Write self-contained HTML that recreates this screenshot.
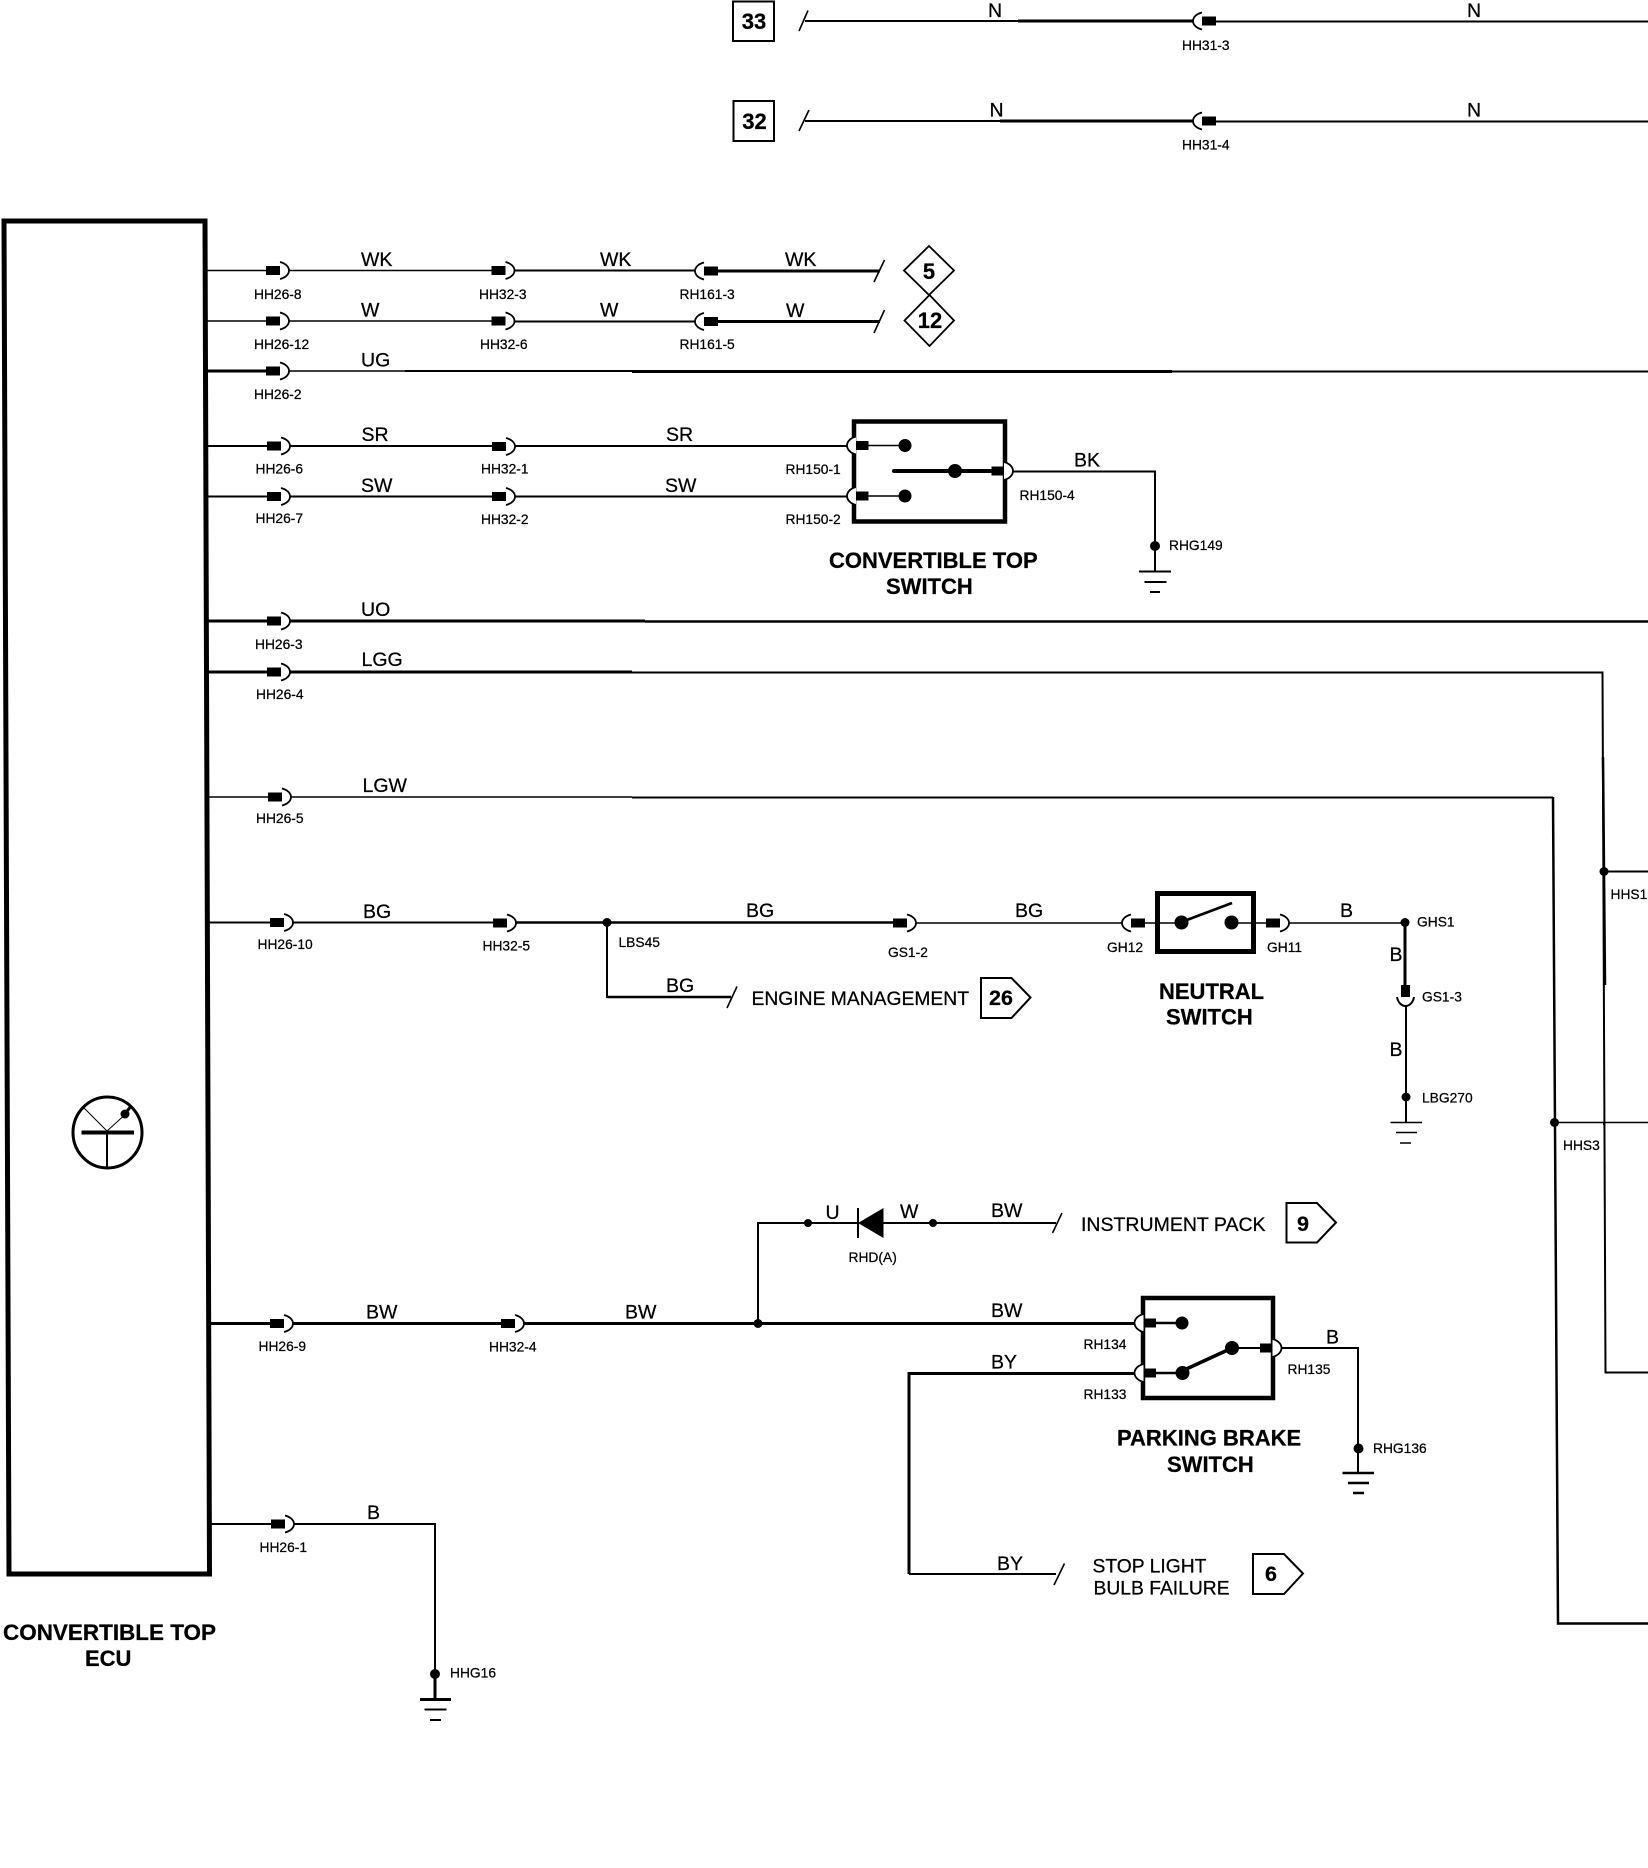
<!DOCTYPE html>
<html lang="en">
<head>
<meta charset="utf-8">
<title>Convertible Top ECU wiring diagram</title>
<style>
html,body{margin:0;padding:0;background:#fff;width:1648px;height:1868px;overflow:hidden}
svg{display:block}
text{font-family:"Liberation Sans",Arial,sans-serif;fill:#000;stroke:#000;stroke-width:.25}
.w{font-size:19.5px}
.c{font-size:13.8px}
.b{font-size:22px;font-weight:bold}
.n{font-size:22px;font-weight:bold;text-anchor:middle}
.l{font-size:19.3px}
.t{fill:none;stroke:#000;stroke-width:1.5}
.m{fill:none;stroke:#000;stroke-width:2}
.h{fill:none;stroke:#000;stroke-width:3}
.x{fill:none;stroke:#000;stroke-width:4.5}
.s{fill:none;stroke:#000;stroke-width:1.6}
</style>
</head>
<body>
<svg xmlns="http://www.w3.org/2000/svg" width="1648" height="1868" viewBox="0 0 1648 1868">
<defs>
<g id="k"><path d="M0 -8.5C6 -7 9 -3.5 9 0C9 3.5 6 7 0 8.5" fill="#fff" stroke="#000" stroke-width="1.800"/><rect x="-14" y="-4.5" width="14" height="9" fill="#000"/></g>
<g id="j"><path d="M0 -9C6 -7.5 9 -3.5 9 0C9 3.5 6 7.5 0 9" fill="#fff" stroke="#000" stroke-width="1.800"/><rect x="-12.500" y="-4.500" width="12.500" height="9" fill="#000"/></g>
</defs>

<!-- ECU -->
<polygon points="4,221 205,221 209.500,1574 9,1574" fill="#fff" stroke="#000" stroke-width="5"/>
<ellipse cx="107.500" cy="1132.500" rx="34.500" ry="35.500" fill="none" stroke="#000" stroke-width="3"/>
<path d="M81.500 1132.500H134" stroke="#000" stroke-width="4" fill="none"/>
<path d="M107 1132V1168" class="m"/>
<path d="M84 1108L107 1131" stroke="#000" stroke-width="1" fill="none"/>
<path d="M107 1131L123.500 1116" stroke="#000" stroke-width="1" fill="none"/>
<path d="M123.500 1116L131 1106" class="h"/>
<circle cx="125" cy="1114" r="4.500"/>

<!-- top wires -->
<rect x="733" y="1.500" width="41" height="39.500" fill="#fff" stroke="#000" stroke-width="2"/>
<rect x="733.500" y="101" width="40.500" height="40" fill="#fff" stroke="#000" stroke-width="2"/>
<text class="n" x="754" y="29">33</text>
<text class="n" x="754.500" y="129">32</text>
<path d="M799 31L808 10.500M799 131L809 110" class="s"/>
<path d="M805 21H1018" class="m"/><path d="M1018 21H1194" class="h"/><path d="M1215 21.500H1648" class="m"/>
<path d="M805 121H1000" class="m"/><path d="M1000 121H1194" class="h"/><path d="M1215 121.500H1648" class="m"/>
<use href="#k" transform="translate(1202 21) scale(-1 1)"/>
<use href="#k" transform="translate(1202 121) scale(-1 1)"/>
<text class="w" x="988" y="17">N</text><text class="w" x="1467" y="17">N</text>
<text class="w" x="989.500" y="116.500">N</text><text class="w" x="1467" y="116.500">N</text>
<text class="c" x="1182" y="50">HH31-3</text><text class="c" x="1182" y="149.500">HH31-4</text>

<!-- WK / W -->
<path d="M206 270.500H500" class="t"/><path d="M505 270.500H700" class="m"/><path d="M712 271H880" class="h"/>
<path d="M206 321H500" class="t"/><path d="M505 321.500H700" class="m"/><path d="M712 321.500H880" class="h"/>
<path d="M874 282L884.500 260M874 333L884.500 310" class="s"/>
<use href="#k" x="280" y="270.500"/><use href="#k" x="505.500" y="270.500"/>
<use href="#k" transform="translate(704 271) scale(-1 1)"/>
<use href="#k" x="280" y="321"/><use href="#k" x="505.500" y="321"/>
<use href="#k" transform="translate(704 321.500) scale(-1 1)"/>
<text class="w" x="361" y="266">WK</text><text class="w" x="600" y="266">WK</text><text class="w" x="785" y="266">WK</text>
<text class="w" x="361" y="316.500">W</text><text class="w" x="600" y="316.500">W</text><text class="w" x="786" y="317">W</text>
<text class="c" x="254" y="299">HH26-8</text><text class="c" x="479" y="299">HH32-3</text><text class="c" x="679.500" y="299">RH161-3</text>
<text class="c" x="254" y="349">HH26-12</text><text class="c" x="480" y="349">HH32-6</text><text class="c" x="679.500" y="349">RH161-5</text>
<polygon points="929,246 954,270.500 929,295 904,270.500" fill="#fff" stroke="#000" stroke-width="1.800"/>
<polygon points="929.500,295 954,320.500 929.500,346 904.500,320.500" fill="#fff" stroke="#000" stroke-width="1.800"/>
<text class="n" x="929" y="279">5</text><text class="n" x="930" y="328">12</text>

<!-- UG -->
<path d="M206 371H270" class="h"/><path d="M285 371H405" class="t"/><path d="M405 371H632" class="m"/><path d="M632 371.500H1172" class="h"/><path d="M1172 371.500H1648" class="m"/>
<use href="#k" x="280" y="371"/>
<text class="w" x="361" y="366.500">UG</text>
<text class="c" x="254" y="399">HH26-2</text>

<!-- SR / SW + convertible top switch -->
<path d="M206 446H850" class="m"/><path d="M206 496.500H850" class="m"/>
<rect x="854" y="421.500" width="151" height="100" fill="#fff" stroke="#000" stroke-width="4.500"/>
<use href="#k" x="281" y="446"/><use href="#k" x="506" y="446.500"/>
<use href="#k" x="281" y="496.500"/><use href="#k" x="506" y="496.500"/>
<use href="#j" transform="translate(856 445.500) scale(-1 1)"/>
<use href="#j" transform="translate(856 496) scale(-1 1)"/>
<use href="#j" x="1004" y="471"/>
<path d="M864 445.500H904M864 496H904" class="t"/>
<circle cx="905" cy="445.500" r="6.500"/><circle cx="905" cy="496" r="6.500"/>
<path d="M894 471H992" stroke="#000" stroke-width="4" stroke-linecap="round" fill="none"/>
<circle cx="955" cy="471" r="7"/>
<path d="M1013 471.500H1155V571" class="m"/>
<circle cx="1155" cy="546" r="5"/>
<path d="M1139 571.500H1171M1144.500 582H1166.500M1150 592H1160" class="m"/>
<text class="w" x="361.500" y="441">SR</text><text class="w" x="666" y="441">SR</text>
<text class="w" x="361" y="492">SW</text><text class="w" x="665" y="492">SW</text>
<text class="w" x="1074" y="466.500">BK</text>
<text class="c" x="255.500" y="473.500">HH26-6</text><text class="c" x="481" y="473.500">HH32-1</text><text class="c" x="785.500" y="474">RH150-1</text>
<text class="c" x="255.500" y="523">HH26-7</text><text class="c" x="481" y="524">HH32-2</text><text class="c" x="785.500" y="524">RH150-2</text>
<text class="c" x="1019.500" y="500">RH150-4</text><text class="c" x="1169" y="550">RHG149</text>
<text class="b" x="829" y="568">CONVERTIBLE TOP</text>
<text class="b" x="886" y="594">SWITCH</text>

<!-- UO -->
<path d="M207 621H645" class="h"/><path d="M645 621.500H1648" class="h" style="stroke-width:2.500"/>
<use href="#k" x="281" y="621"/>
<text class="w" x="361" y="616">UO</text><text class="c" x="255" y="649">HH26-3</text>

<!-- LGG -->
<path d="M207 672H632" class="h"/><path d="M632 672.500H1602.500L1605.500 1372.500H1648" class="m"/>
<path d="M1603 757L1605 985" class="h" style="stroke-width:2.500"/>
<path d="M1604 871.500H1648" class="m"/>
<circle cx="1604" cy="871.500" r="4.500"/>
<use href="#k" x="281" y="672"/>
<text class="w" x="361.500" y="666">LGG</text><text class="c" x="256" y="699">HH26-4</text>
<text class="c" x="1610.500" y="899">HHS1</text>

<!-- LGW -->
<path d="M208 797H632" class="t"/><path d="M632 797.500H1553" class="m"/><path d="M1553 797L1558 1623.500H1648" class="h" style="stroke-width:2.500"/>
<path d="M1554.500 1122.500H1648" class="t"/><path d="M1604 1122V1125" class="m"/>
<circle cx="1554.500" cy="1122.500" r="4.500"/>
<use href="#k" x="282" y="797"/>
<text class="w" x="362.500" y="792">LGW</text><text class="c" x="256" y="823">HH26-5</text>
<text class="c" x="1563" y="1150">HHS3</text>

<!-- BG -->
<path d="M208 922.500H500" class="m"/><path d="M507 922.500H900" class="m" style="stroke-width:2.400"/>
<path d="M915 923H1122" class="t"/>
<path d="M607 922V997H731" class="m"/><path d="M607 997H731" class="h" style="stroke-width:2.500"/>
<circle cx="607" cy="922.500" r="4.500"/>
<path d="M727 1008L737 986.500" class="s"/>
<use href="#k" x="284" y="922.500"/><use href="#k" x="507" y="923"/><use href="#k" x="907" y="923"/>
<text class="w" x="363" y="918">BG</text><text class="w" x="746" y="917">BG</text><text class="w" x="666" y="992">BG</text><text class="w" x="1015" y="917">BG</text>
<text class="c" x="257.500" y="949">HH26-10</text><text class="c" x="482.500" y="950.500">HH32-5</text><text class="c" x="618.500" y="947">LBS45</text><text class="c" x="888" y="957">GS1-2</text>
<text class="l" x="751.500" y="1005">ENGINE MANAGEMENT</text>
<polygon points="981,978 1011.500,978 1030.500,997.500 1011.500,1018 981,1018" fill="#fff" stroke="#000" stroke-width="2"/>
<text class="n" x="1001" y="1005" style="font-size:21.500px">26</text>

<!-- neutral switch -->
<rect x="1157.500" y="893.500" width="96" height="58" fill="#fff" stroke="#000" stroke-width="5"/>
<use href="#k" transform="translate(1131 923) scale(-1 1)"/>
<use href="#k" x="1280" y="923"/>
<path d="M1140 923H1181M1230 923H1268M1289 923H1405" class="t"/>
<circle cx="1181.500" cy="922.500" r="7"/><circle cx="1231.500" cy="922.500" r="7"/>
<path d="M1181.500 922L1232 903" stroke="#000" stroke-width="2.800" fill="none"/>
<circle cx="1405" cy="922.500" r="4.500"/>
<path d="M1405 922V990" class="h"/>
<rect x="1401" y="985" width="9" height="12"/>
<path d="M1397 997C1398 1003 1402 1006 1405.500 1006C1409 1006 1413 1003 1414 997" fill="#fff" stroke="#000" stroke-width="2"/>
<path d="M1406 1006V1122" class="m"/>
<circle cx="1406" cy="1097" r="4.500"/>
<path d="M1390.500 1122.500H1422M1396 1132.500H1417M1400 1143H1411" class="t"/>
<text class="w" x="1340" y="917">B</text><text class="w" x="1389.500" y="961">B</text><text class="w" x="1389.500" y="1056">B</text>
<text class="c" x="1107" y="952">GH12</text><text class="c" x="1267" y="952">GH11</text><text class="c" x="1417" y="926.500">GHS1</text><text class="c" x="1422" y="1001.500">GS1-3</text><text class="c" x="1422" y="1102.500">LBG270</text>
<text class="b" x="1159" y="999">NEUTRAL</text>
<text class="b" x="1166" y="1024.500">SWITCH</text>

<!-- BW -->
<path d="M209 1323.500H1137" class="h"/>
<path d="M758 1323V1223H858" class="m"/>
<circle cx="758" cy="1323.500" r="4.500"/><circle cx="808" cy="1223" r="4"/>
<use href="#k" x="284" y="1323.500"/><use href="#k" x="515" y="1323.500"/>
<path d="M858 1208V1238" class="m"/>
<polygon points="858,1223 883.500,1208 883.500,1238"/>
<path d="M883 1223H1056" class="m"/>
<circle cx="933" cy="1223" r="4"/>
<path d="M1052.500 1233L1062 1213" class="s"/>
<text class="w" x="366" y="1318.500">BW</text><text class="w" x="625" y="1318.500">BW</text>
<text class="w" x="825.500" y="1219">U</text><text class="w" x="900" y="1218">W</text><text class="w" x="991" y="1217">BW</text>
<text class="c" x="258.500" y="1351">HH26-9</text><text class="c" x="489" y="1351.500">HH32-4</text><text class="c" x="848.500" y="1262">RHD(A)</text>
<text class="l" x="1081" y="1231" style="font-size:19.5px">INSTRUMENT PACK</text>
<polygon points="1286.500,1203 1317,1203 1336,1222.500 1317,1242.500 1286.500,1242.500" fill="#fff" stroke="#000" stroke-width="2"/>
<text class="n" x="1303" y="1231" style="font-size:21.500px">9</text>

<!-- parking brake switch -->
<path d="M909 1574V1373.500H1136" class="h"/>
<path d="M909 1574H1056" class="m"/>
<path d="M1054 1585L1064.500 1563.500" class="s"/>
<rect x="1143" y="1298" width="130" height="100" fill="#fff" stroke="#000" stroke-width="4.500"/>
<use href="#j" transform="translate(1143.500 1323) scale(-1 1)"/>
<use href="#j" transform="translate(1143.500 1373) scale(-1 1)"/>
<use href="#j" x="1272.500" y="1348"/>
<path d="M1150 1323H1182M1150 1373H1182" class="h" style="stroke-width:2.500"/>
<circle cx="1182" cy="1323" r="6.500"/><circle cx="1182.500" cy="1373" r="7"/>
<path d="M1182 1371L1232 1348" stroke="#000" stroke-width="3.500" fill="none"/>
<circle cx="1232" cy="1348" r="7"/>
<path d="M1232 1348H1262" class="m"/>
<path d="M1281 1348H1358V1472" class="m"/>
<circle cx="1358.500" cy="1448.500" r="5"/>
<path d="M1342.500 1473H1374M1348 1483H1369M1353 1493H1364" stroke="#000" stroke-width="2.500" fill="none"/>
<text class="w" x="991" y="1317">BW</text><text class="w" x="991" y="1368.500">BY</text><text class="w" x="997" y="1570">BY</text><text class="w" x="1326" y="1343.500">B</text>
<text class="c" x="1083.500" y="1349">RH134</text><text class="c" x="1083.500" y="1399">RH133</text><text class="c" x="1287.500" y="1374">RH135</text><text class="c" x="1373" y="1453">RHG136</text>
<text class="b" x="1117" y="1445.500">PARKING BRAKE</text>
<text class="b" x="1167" y="1472">SWITCH</text>
<text class="l" x="1092.500" y="1572.500">STOP LIGHT</text>
<text class="l" x="1093.500" y="1594.500">BULB FAILURE</text>
<polygon points="1253,1554 1284,1554 1303,1573.500 1284,1594 1253,1594" fill="#fff" stroke="#000" stroke-width="2"/>
<text class="n" x="1271" y="1581" style="font-size:21.500px">6</text>

<!-- HH26-1 ground -->
<path d="M211 1524H435V1699" class="m"/>
<use href="#k" x="285" y="1524"/>
<circle cx="435" cy="1674" r="5"/>
<path d="M435 1674V1699" class="h"/>
<path d="M420 1699.500H451" class="h"/><path d="M424.500 1709.500H446.500M430 1720H441" class="m"/>
<text class="w" x="367" y="1519">B</text>
<text class="c" x="259.500" y="1552">HH26-1</text><text class="c" x="450" y="1677.500">HHG16</text>
<text class="b" x="3" y="1640" textLength="213" lengthAdjust="spacingAndGlyphs">CONVERTIBLE TOP</text>
<text class="b" x="85" y="1666">ECU</text>
</svg>
</body>
</html>
